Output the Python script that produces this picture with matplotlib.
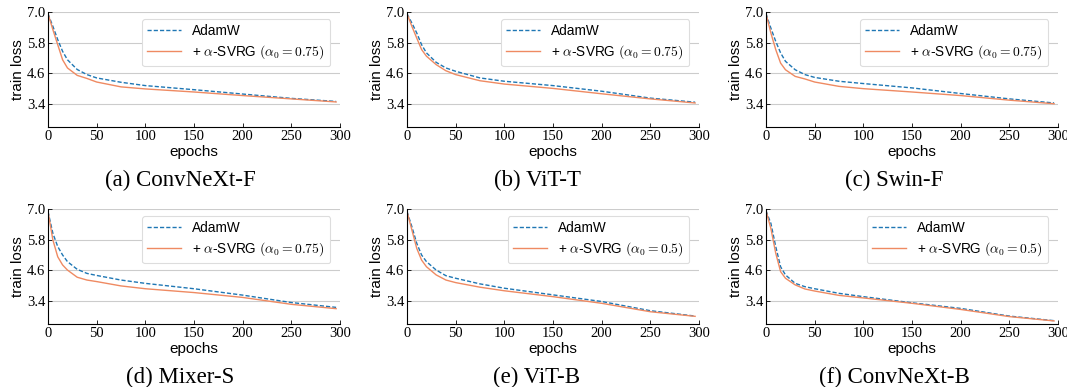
import matplotlib
matplotlib.use("Agg")
import matplotlib.pyplot as plt

plt.rcParams["mathtext.fontset"] = "cm"

EPOCHS = [0, 5, 10, 15, 20, 30, 40, 50, 75, 100, 150, 200, 250, 296]

PANELS = ["(a) ConvNeXt-F", "(b) ViT-T", "(c) Swin-F",
          "(d) Mixer-S", "(e) ViT-B", "(f) ConvNeXt-B"]
ALPHAS = ["0.75", "0.75", "0.75", "0.75", "0.5", "0.5"]

ADAMW = [
    [6.93, 6.44, 5.92, 5.46, 5.13, 4.75, 4.55, 4.42, 4.25, 4.12, 3.96, 3.79, 3.62, 3.50],
    [6.93, 6.57, 6.18, 5.72, 5.40, 5.03, 4.81, 4.68, 4.42, 4.29, 4.12, 3.90, 3.63, 3.47],
    [6.93, 6.37, 5.85, 5.40, 5.07, 4.74, 4.55, 4.44, 4.29, 4.20, 4.03, 3.81, 3.60, 3.44],
    [6.90, 6.05, 5.53, 5.20, 4.94, 4.64, 4.48, 4.40, 4.22, 4.09, 3.88, 3.63, 3.34, 3.15],
    [6.90, 6.31, 5.66, 5.20, 4.94, 4.61, 4.39, 4.29, 4.07, 3.90, 3.64, 3.38, 3.02, 2.81],
    [6.93, 6.44, 5.53, 4.74, 4.42, 4.09, 3.96, 3.88, 3.70, 3.57, 3.33, 3.11, 2.81, 2.63],
]
SVRG = [
    [6.93, 6.31, 5.72, 5.13, 4.81, 4.52, 4.40, 4.26, 4.07, 3.99, 3.87, 3.73, 3.60, 3.48],
    [6.93, 6.44, 5.98, 5.53, 5.27, 4.94, 4.70, 4.55, 4.31, 4.18, 4.01, 3.80, 3.60, 3.44],
    [6.93, 6.18, 5.53, 5.00, 4.74, 4.48, 4.38, 4.26, 4.09, 4.00, 3.87, 3.73, 3.55, 3.41],
    [6.90, 5.79, 5.13, 4.81, 4.61, 4.33, 4.22, 4.16, 3.99, 3.88, 3.73, 3.54, 3.27, 3.10],
    [6.90, 6.18, 5.46, 5.00, 4.74, 4.42, 4.22, 4.12, 3.94, 3.80, 3.57, 3.31, 2.98, 2.80],
    [6.93, 6.24, 5.27, 4.55, 4.29, 4.03, 3.87, 3.79, 3.62, 3.52, 3.31, 3.07, 2.79, 2.62],
]

YTICKS = [3.4, 4.6, 5.8, 7.0]
XTICKS = [0, 50, 100, 150, 200, 250, 300]

BLUE = "#1f77b4"
ORANGE = "#ef8a62"
SERIF = "Liberation Serif"
SANS = "Liberation Sans"

W, H = 1067, 387
fig = plt.figure(figsize=(W / 100, H / 100), dpi=100)

# pixel layout of the six subfigures
col_left = [48, 407, 766]
caption_x = [180, 537, 894]
col_width = 292
row_top = [12, 209]
ax_height = 115

for i, name in enumerate(PANELS):
    r, c = divmod(i, 3)
    left = col_left[c]
    top = row_top[r]
    ax = fig.add_axes([left / W, 1 - (top + ax_height) / H, col_width / W, ax_height / H])

    ax.plot(EPOCHS, ADAMW[i], color=BLUE, linestyle=(0, (3, 1.5)), linewidth=1.0,
            label="AdamW")
    ax.plot(EPOCHS, SVRG[i], color=ORANGE, linewidth=1.0,
            label=r"+ $\alpha$-SVRG $(\alpha_0 = %s)$" % ALPHAS[i])

    ax.set_xlim(0, 300)
    ax.set_ylim(2.5, 7.0)
    ax.set_xticks(XTICKS)
    ax.set_yticks(YTICKS)
    ax.set_yticklabels(["%.1f" % v for v in YTICKS])
    ax.grid(axis="y", color="#cccccc", linewidth=0.8)
    ax.set_axisbelow(True)
    for s in ["top", "right"]:
        ax.spines[s].set_visible(False)
    ax.tick_params(direction="in", length=3, width=0.6, pad=2, labelsize=10.5)
    for lbl in ax.get_xticklabels() + ax.get_yticklabels():
        lbl.set_fontfamily(SERIF)

    ax.set_ylabel("train loss", fontsize=11, family=SANS, labelpad=1)
    ax.set_xlabel("epochs", fontsize=11, family=SANS, labelpad=1.5)

    leg = ax.legend(loc="upper right", handlelength=2.5,
                    prop={"family": SANS, "size": 9.8}, borderpad=0.4,
                    labelspacing=0.35, handletextpad=0.8, fancybox=True,
                    framealpha=1, bbox_to_anchor=(0.99, 1.0))
    leg.get_frame().set_edgecolor("#dddddd")
    leg.get_frame().set_linewidth(0.8)

    fig.text(caption_x[c] / W, 1 - (top + 168) / H, name,
             ha="center", va="center", fontsize=16.5, family=SERIF)

fig.savefig("out.png", dpi=100)
